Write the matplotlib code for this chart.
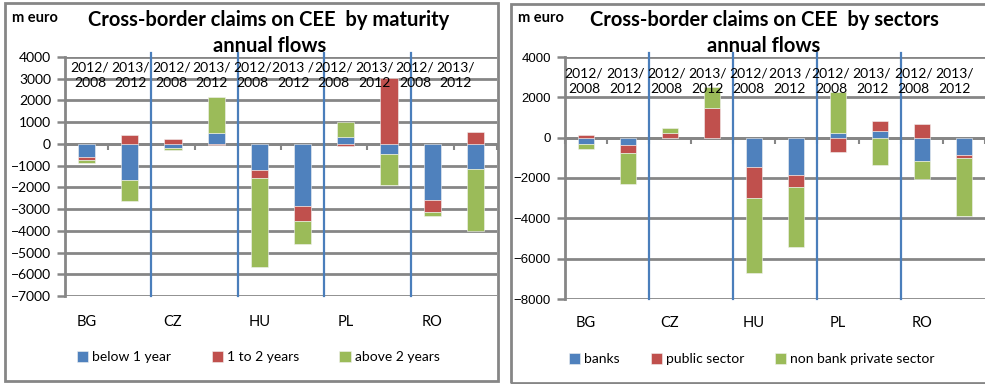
import numpy as np
import matplotlib
matplotlib.use('Agg')
import matplotlib.pyplot as plt
from matplotlib.patches import Rectangle

plt.rcParams['font.family'] = ['Lato', 'DejaVu Sans']

# periods shown above each bar, countries shown below each pair
periods = ['2012/\n2008', '2013/\n2012', '2012/\n2008', '2013/\n2012', '2012/\n2008',
           '2013 /\n2012', '2012/\n2008', '2013/\n2012', '2012/\n2008', '2013/\n2012']
countries = ['BG', 'CZ', 'HU', 'PL', 'RO']

# claims by maturity, m euro
below_1y = [-600, -1650, -200, 520, -1200, -2870, 340, -460, -2580, -1160]
one_to_2y = [-150, 400, 230, -70, -380, -670, -100, 3050, -540, 570]
above_2y = [-150, -980, -100, 1660, -4100, -1050, 660, -1420, -220, -2870]

# claims by sectors, m euro
banks = [-310, -360, 0, 0, -1450, -1860, 210, 350, -1160, -850]
public_sector = [130, -400, 210, 1480, -1530, -590, -720, 470, 680, -140]
non_bank = [-270, -1560, 280, 1040, -3710, -2990, 2060, -1360, -900, -2910]

BLUE, RED, GREEN = '#4f81bd', '#c0504d', '#9bbb59'
GRID = '#868686'
SEP = '#4a7ebb'

W, H = 985, 384
fig = plt.figure(figsize=(W / 100, H / 100), dpi=100)


def px_axes(x0, y_top, x1, y_bot):
    return fig.add_axes([x0 / W, (H - y_bot) / H, (x1 - x0) / W, (y_bot - y_top) / H])


def stacked(ax, series, labels):
    x = np.arange(len(series[0]))
    pos = np.zeros(len(x))
    neg = np.zeros(len(x))
    for vals, col, lab in zip(series, [BLUE, RED, GREEN], labels):
        v = np.array(vals, dtype=float)
        base = np.where(v >= 0, pos, neg)
        ax.bar(x, v, 0.4, bottom=base, color=col, label=lab,
               edgecolor='#f2f2f2', linewidth=0.4, zorder=3)
        pos += np.clip(v, 0, None)
        neg += np.clip(v, None, 0)


def style(ax, ylim, step, tickfont, tick_size):
    ax.set_xlim(-0.5, 9.5)
    ax.set_ylim(*ylim)
    ax.set_yticks(np.arange(ylim[0], ylim[1] + 1, step))
    ax.set_xticks(np.arange(-0.5, 10, 1))
    ax.set_xticklabels([])
    ax.yaxis.grid(True, color=GRID, linewidth=2, zorder=1)
    ax.set_axisbelow(True)
    for s in ['top', 'right']:
        ax.spines[s].set_visible(False)
    ax.spines['left'].set_color(GRID)
    ax.spines['left'].set_linewidth(2)
    ax.spines['bottom'].set_position(('data', 0))
    ax.spines['bottom'].set_color(GRID)
    ax.spines['bottom'].set_linewidth(2)
    ax.tick_params(axis='x', direction='out', length=4, width=1.5, color=GRID)
    ax.tick_params(axis='y', direction='out', length=6, width=1.8, color=GRID,
                   labelsize=tick_size, pad=4)
    for lab in ax.get_yticklabels():
        lab.set_family(tickfont)
    for b in [1.5, 3.5, 5.5, 7.5]:
        ax.axvline(b, ymin=0, ymax=1.015, color=SEP, linewidth=1.6, zorder=4, clip_on=False)


def labels(ax, top_y, country_y, shift=0.0, squeeze=1.0):
    # period text boxes sit above the bars, drifting slightly left across the chart
    for i, p in enumerate(periods):
        ax.text(shift + squeeze * i, top_y, p, transform=ax.get_xaxis_transform(),
                ha='center', va='center', fontsize=10, linespacing=1.3, zorder=5)
    for i, c in enumerate(countries):
        ax.text(2 * i, country_y, c, transform=ax.get_xaxis_transform(), ha='center',
                va='center', fontsize=10.5)


def frame(x0, y_top, x1, y_bot):
    fig.patches.append(Rectangle((x0 / W, (H - y_bot) / H), (x1 - x0) / W, (y_bot - y_top) / H,
                                 transform=fig.transFigure, fill=False,
                                 edgecolor=GRID, linewidth=2))


# left chart: by maturity
frame(5, 3, 498, 381)
ax1 = px_axes(65, 57, 497, 296)
stacked(ax1, [below_1y, one_to_2y, above_2y], ['below 1 year', '1 to 2 years', 'above 2 years'])
style(ax1, (-7000, 4000), 1000, 'Lato', 10)
labels(ax1, 0.923, -0.109, shift=0.08, squeeze=0.94)
ax1.legend(loc='center left', bbox_to_anchor=(0.028, -0.255), ncol=3, frameon=False,
           fontsize=10, handlelength=0.8, handleheight=0.8, handletextpad=0.3,
           columnspacing=2.9, borderpad=0, borderaxespad=0)
fig.text(12 / W, 1 - 18 / H, 'm euro', fontsize=10.5, fontweight='bold', va='center')
fig.text(269 / W, 1 - 20 / H, 'Cross-border claims on CEE  by maturity', fontsize=14.5,
         fontweight='bold', ha='center', va='center')
fig.text(270 / W, 1 - 46 / H, 'annual flows', fontsize=14.5, fontweight='bold',
         ha='center', va='center')

# right chart: by sectors
frame(511, 4, 1000, 383)
ax2 = px_axes(565, 57, 985, 299)
stacked(ax2, [banks, public_sector, non_bank], ['banks', 'public sector', 'non bank private sector'])
style(ax2, (-8000, 4000), 2000, 'Liberation Sans', 9.5)
labels(ax2, 0.90, -0.099, shift=-0.05, squeeze=0.98)
ax2.legend(loc='center left', bbox_to_anchor=(0.01, -0.248), ncol=3, frameon=False,
           fontsize=10, handlelength=0.8, handleheight=0.8, handletextpad=0.3,
           columnspacing=2.2, borderpad=0, borderaxespad=0)
fig.text(518 / W, 1 - 18 / H, 'm euro', fontsize=10.5, fontweight='bold', va='center')
fig.text(764 / W, 1 - 20 / H, 'Cross-border claims on CEE  by sectors', fontsize=14.5,
         fontweight='bold', ha='center', va='center')
fig.text(764 / W, 1 - 46 / H, 'annual flows', fontsize=14.5, fontweight='bold',
         ha='center', va='center')

fig.savefig('out.png', dpi=100)
